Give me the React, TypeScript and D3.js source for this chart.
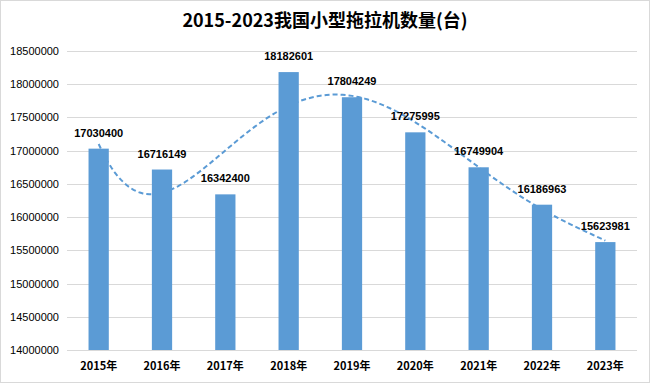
import React from "react";
import * as d3 from "d3";

const categories = ["2015年", "2016年", "2017年", "2018年", "2019年", "2020年", "2021年", "2022年", "2023年"];
const values = [17030400, 16716149, 16342400, 18182601, 17804249, 17275995, 16749904, 16186963, 15623981];
const yTicks = [14000000, 14500000, 15000000, 15500000, 16000000, 16500000, 17000000, 17500000, 18000000, 18500000];
const title = "2015-2023我国小型拖拉机数量(台)";
const trendOrder = 5;

function polyFit(xs: number[], ys: number[], order: number): number[] {
  const n = order + 1;
  const A: number[][] = Array.from({ length: n }, () => new Array(n + 1).fill(0));
  for (let r = 0; r < n; r++) {
    for (let c = 0; c < n; c++) {
      A[r][c] = xs.reduce((s, x) => s + Math.pow(x, r + c), 0);
    }
    A[r][n] = xs.reduce((s, x, i) => s + Math.pow(x, r) * ys[i], 0);
  }
  for (let i = 0; i < n; i++) {
    let p = i;
    for (let k = i + 1; k < n; k++) if (Math.abs(A[k][i]) > Math.abs(A[p][i])) p = k;
    [A[i], A[p]] = [A[p], A[i]];
    for (let k = 0; k < n; k++) {
      if (k === i) continue;
      const f = A[k][i] / A[i][i];
      for (let j = i; j <= n; j++) A[k][j] -= f * A[i][j];
    }
  }
  return A.map((row, i) => row[n] / row[i]);
}

export default function App() {
  const W = 650, H = 383;
  const left = 67, right = 637, top = 51, bottom = 350;
  const x = d3.scaleBand().domain(categories).range([left, right]).paddingInner(0.68).paddingOuter(0.34);
  const y = d3.scaleLinear().domain([14000000, 18500000]).range([bottom, top]);
  const xs = values.map((_, i) => i + 1);
  const coef = polyFit(xs, values, trendOrder);
  const f = (t: number) => coef.reduce((s, c, k) => s + c * Math.pow(t, k), 0);
  const cx = (t: number) => (x(categories[0]) as number) + x.bandwidth() / 2 + (t - 1) * x.step();
  const pts: [number, number][] = d3.range(1, 9.001, 0.05).map((t) => [cx(t), y(f(t))]);
  const line = d3.line().curve(d3.curveLinear)(pts) || "";
  const font = "'Liberation Sans', 'Noto Sans CJK SC', sans-serif";
  return (
    <svg width={W} height={H} style={{ position: "absolute", left: 0, top: 0 }} fontFamily={font}>
      <rect x={0.5} y={0.5} width={W - 1} height={H - 1} fill="#fff" stroke="#d9d9d9" />
      <text x={325} y={27} textAnchor="middle" fontSize={18} fontWeight="bold" fill="#000" fontFamily="'Noto Sans CJK SC', sans-serif">{title}</text>
      {yTicks.map((t) => (
        <g key={t}>
          <line x1={left} x2={right} y1={Math.round(y(t)) + 0.5} y2={Math.round(y(t)) + 0.5} stroke="#d9d9d9" />
          <text x={59} y={y(t) + 4} textAnchor="end" fontSize={11} fill="#000">{t}</text>
        </g>
      ))}
      <path d={line} fill="none" stroke="#5b9bd5" strokeWidth={2} strokeDasharray="5,3" />
      {values.map((v, i) => (
        <g key={i}>
          <rect x={x(categories[i])} y={y(v)} width={x.bandwidth()} height={bottom - y(v)} fill="#5b9bd5" />
          <text x={(x(categories[i]) as number) + x.bandwidth() / 2} y={y(v) - 12} textAnchor="middle" fontSize={11} fontWeight="bold" fill="#000">{v}</text>
          <text x={(x(categories[i]) as number) + x.bandwidth() / 2} y={370} textAnchor="middle" fontSize={11} fontWeight="bold" fill="#000" fontFamily="'Noto Sans CJK SC', sans-serif">{categories[i]}</text>
        </g>
      ))}
    </svg>
  );
}
